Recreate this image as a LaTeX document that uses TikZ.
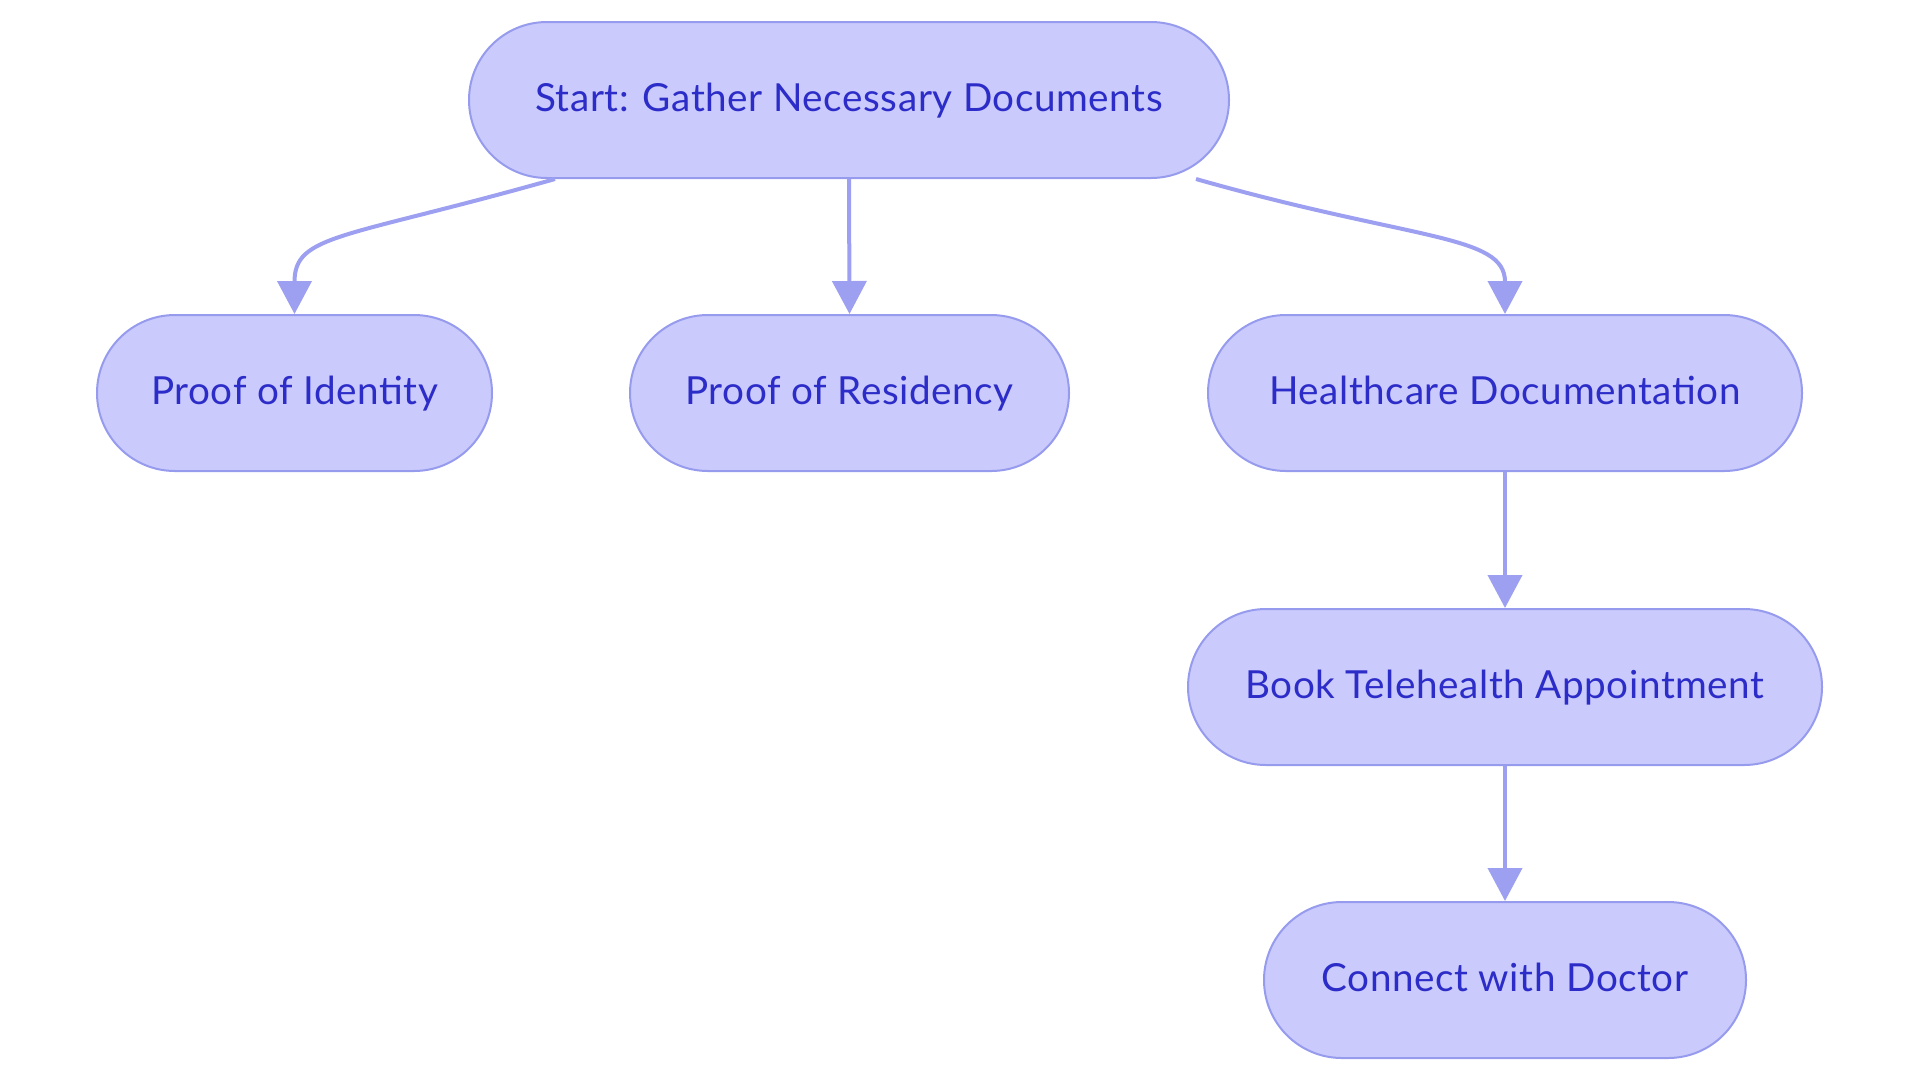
\documentclass[tikz,border=0pt]{standalone}
\usepackage{fontspec}
\setmainfont[LetterSpace=1.5]{Lato}
\usetikzlibrary{arrows.meta,calc}
\definecolor{nodefill}{RGB}{202,202,252}
\definecolor{nodedraw}{RGB}{150,155,238}
\definecolor{edgecol}{RGB}{157,160,240}
\definecolor{txtcol}{RGB}{44,44,200}
\begin{document}
\begin{tikzpicture}[x=0.75pt,y=-0.75pt,
  pill/.style={draw=nodedraw, fill=nodefill, line width=1.5pt, rounded corners=58.5pt,
    minimum height=117pt, inner sep=0pt, text=txtcol, text height=21pt, text depth=4.5pt,
    font=\fontsize{29}{35}\selectfont},
  edge/.style={draw=edgecol, line width=3pt, -{Triangle[width=25.5pt,length=24.75pt]}}]
\useasboundingbox (0,0) rectangle (1920,1083);
\node[pill, minimum width=570pt] (s) at (849,100) {Start: Gather Necessary Documents};
\node[pill, minimum width=296.25pt] (i) at (294.5,393) {Proof of Identity};
\node[pill, minimum width=329.25pt] (r) at (849.5,393) {Proof of Residency};
\node[pill, minimum width=445.5pt] (h) at (1505,393) {Healthcare Documentation};
\node[pill, minimum width=475.5pt] (b) at (1505,687) {Book Telehealth Appointment};
\node[pill, minimum width=361.5pt] (c) at (1505,980) {Connect with Doctor};
\draw[edge] ($(s.south)+(-294,0)$) .. controls ($(s.south)+(-506,60)$) and ($(i.north)+(0,-80)$) .. (i.north);
\draw[edge] (s.south) -- (r.north);
\draw[edge] ($(s.south)+(347,0)$) .. controls ($(s.south)+(565,62)$) and ($(h.north)+(0,-80)$) .. (h.north);
\draw[edge] (h.south) -- (b.north);
\draw[edge] (b.south) -- (c.north);
\end{tikzpicture}
\end{document}
